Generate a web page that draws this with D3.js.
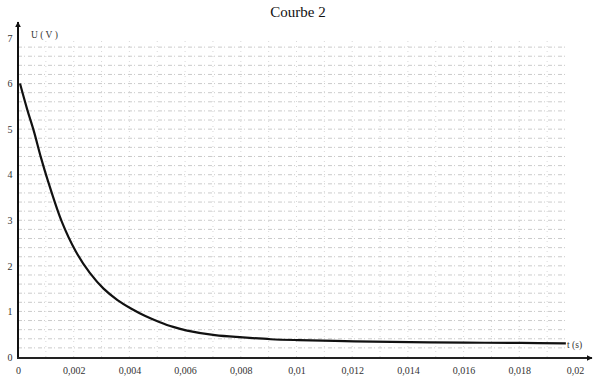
<!DOCTYPE html>
<html>
<head>
<meta charset="utf-8">
<script src="https://cdn.jsdelivr.net/npm/d3@7"></script>
<style>
  body { margin: 0; background: #fff; }
  svg { display: block; font-family: "Liberation Serif", "DejaVu Serif", serif; }
  .tick text { fill: #333; font-size: 10px; }
</style>
</head>
<body>
<div class="chart"></div>
<script>
// values
var tValues = [0, 0.00025, 0.0005, 0.00075, 0.001, 0.0015, 0.002, 0.0025, 0.003, 0.0035, 0.004, 0.0045, 0.005, 0.0055, 0.006, 0.007, 0.008, 0.009, 0.010, 0.012, 0.014, 0.016, 0.018, 0.0196];
var uValues = [6.0, 5.45, 4.95, 4.38, 3.87, 2.97, 2.32, 1.85, 1.50, 1.25, 1.06, 0.90, 0.77, 0.66, 0.58, 0.48, 0.43, 0.39, 0.37, 0.345, 0.325, 0.315, 0.31, 0.30];

var xTicks = [0, 0.002, 0.004, 0.006, 0.008, 0.01, 0.012, 0.014, 0.016, 0.018, 0.02];
var xTickLabels = ["0", "0,002", "0,004", "0,006", "0,008", "0,01", "0,012", "0,014", "0,016", "0,018", "0,02"];
var yTicks = [0, 1, 2, 3, 4, 5, 6, 7];

var width = 593, height = 385;

var x = d3.scaleLinear().domain([0, 0.02]).range([18, 575]);
var y = d3.scaleLinear().domain([0, 7]).range([357, 38]);

var svg = d3.select(".chart").append("svg")
    .attr("width", width)
    .attr("height", height);

    //title
svg.append("text")
    .attr("x", 298).attr("y", 17)
    .attr("text-anchor", "middle")
    .style("font-size", "15px")
    .style("fill", "#111")
    .text("Courbe 2");

    //dotted grid (scanned look)
var grid = svg.append("g");
grid.selectAll(".hg")
    .data(d3.range(1, 35).map(function (i) { return i * 0.2; }))
    .enter().append("line")
    .attr("x1", x(0)).attr("x2", x(0.0197))
    .attr("y1", function (d) { return y(d); })
    .attr("y2", function (d) { return y(d); })
    .attr("stroke", "#a8a8a8")
    .attr("stroke-width", 0.6)
    .attr("stroke-dasharray", "4,2,1,3");

grid.selectAll(".vg")
    .data(d3.range(1, 20).map(function (i) { return i * 0.001; }))
    .enter().append("line")
    .attr("x1", function (d) { return x(d); })
    .attr("x2", function (d) { return x(d); })
    .attr("y1", y(0)).attr("y2", y(7))
    .attr("stroke", "#bdbdbd")
    .attr("stroke-width", 0.6)
    .attr("stroke-dasharray", "1,4");

    //tick labels
var xAxis = d3.axisBottom(x)
    .tickValues(xTicks)
    .tickSize(0)
    .tickPadding(10)
    .tickFormat(function (d, i) { return xTickLabels[i]; });

svg.append("g")
    .attr("transform", "translate(0," + y(0) + ")")
    .call(xAxis)
    .call(function (g) { g.select(".domain").remove(); })
    .selectAll("text").style("font-family", "Liberation Serif");

var yAxis = d3.axisLeft(y)
    .tickValues(yTicks)
    .tickSize(0)
    .tickPadding(8)
    .tickFormat(d3.format("d"));

svg.append("g")
    .attr("transform", "translate(" + x(0) + ",0)")
    .call(yAxis)
    .call(function (g) { g.select(".domain").remove(); })
    .selectAll("text")
    .attr("text-anchor", "middle")
    .attr("x", -8)
    .style("font-family", "Liberation Serif");

    //axes with arrows
var defs = svg.append("defs");
defs.append("marker")
    .attr("id", "arrow")
    .attr("viewBox", "0 0 10 10")
    .attr("refX", 9).attr("refY", 5)
    .attr("markerWidth", 6).attr("markerHeight", 6)
    .attr("markerUnits", "userSpaceOnUse")
    .attr("orient", "auto")
    .append("path")
    .attr("d", "M0,0L10,5L0,10z")
    .attr("fill", "#111");

svg.append("line")
    .attr("x1", x(0)).attr("y1", y(0) + 1)
    .attr("x2", x(0)).attr("y2", 22)
    .attr("stroke", "#111").attr("stroke-width", 2)
    .attr("marker-end", "url(#arrow)");

svg.append("line")
    .attr("x1", x(0) - 1).attr("y1", y(0) + 1)
    .attr("x2", 592).attr("y2", y(0) + 1)
    .attr("stroke", "#222").attr("stroke-width", 1.8)
    .attr("marker-end", "url(#arrow)");

    //axis titles
svg.append("text")
    .attr("x", 31).attr("y", 38)
    .style("font-size", "9.5px").style("fill", "#333")
    .text("U ( V )");

svg.append("text")
    .attr("x", 567).attr("y", 348)
    .style("font-size", "9.5px").style("fill", "#333")
    .text("t (s)");

    //curve
var line = d3.line()
    .x(function (d) { return x(d[0]); })
    .y(function (d) { return y(d[1]); })
    .curve(d3.curveCatmullRom.alpha(0.5));

svg.append("path")
    .datum(d3.zip(tValues, uValues))
    .attr("d", line)
    .attr("transform", "translate(2,0)")
    .attr("fill", "none")
    .attr("stroke", "#111")
    .attr("stroke-width", 2.2);
</script>
</body>
</html>
